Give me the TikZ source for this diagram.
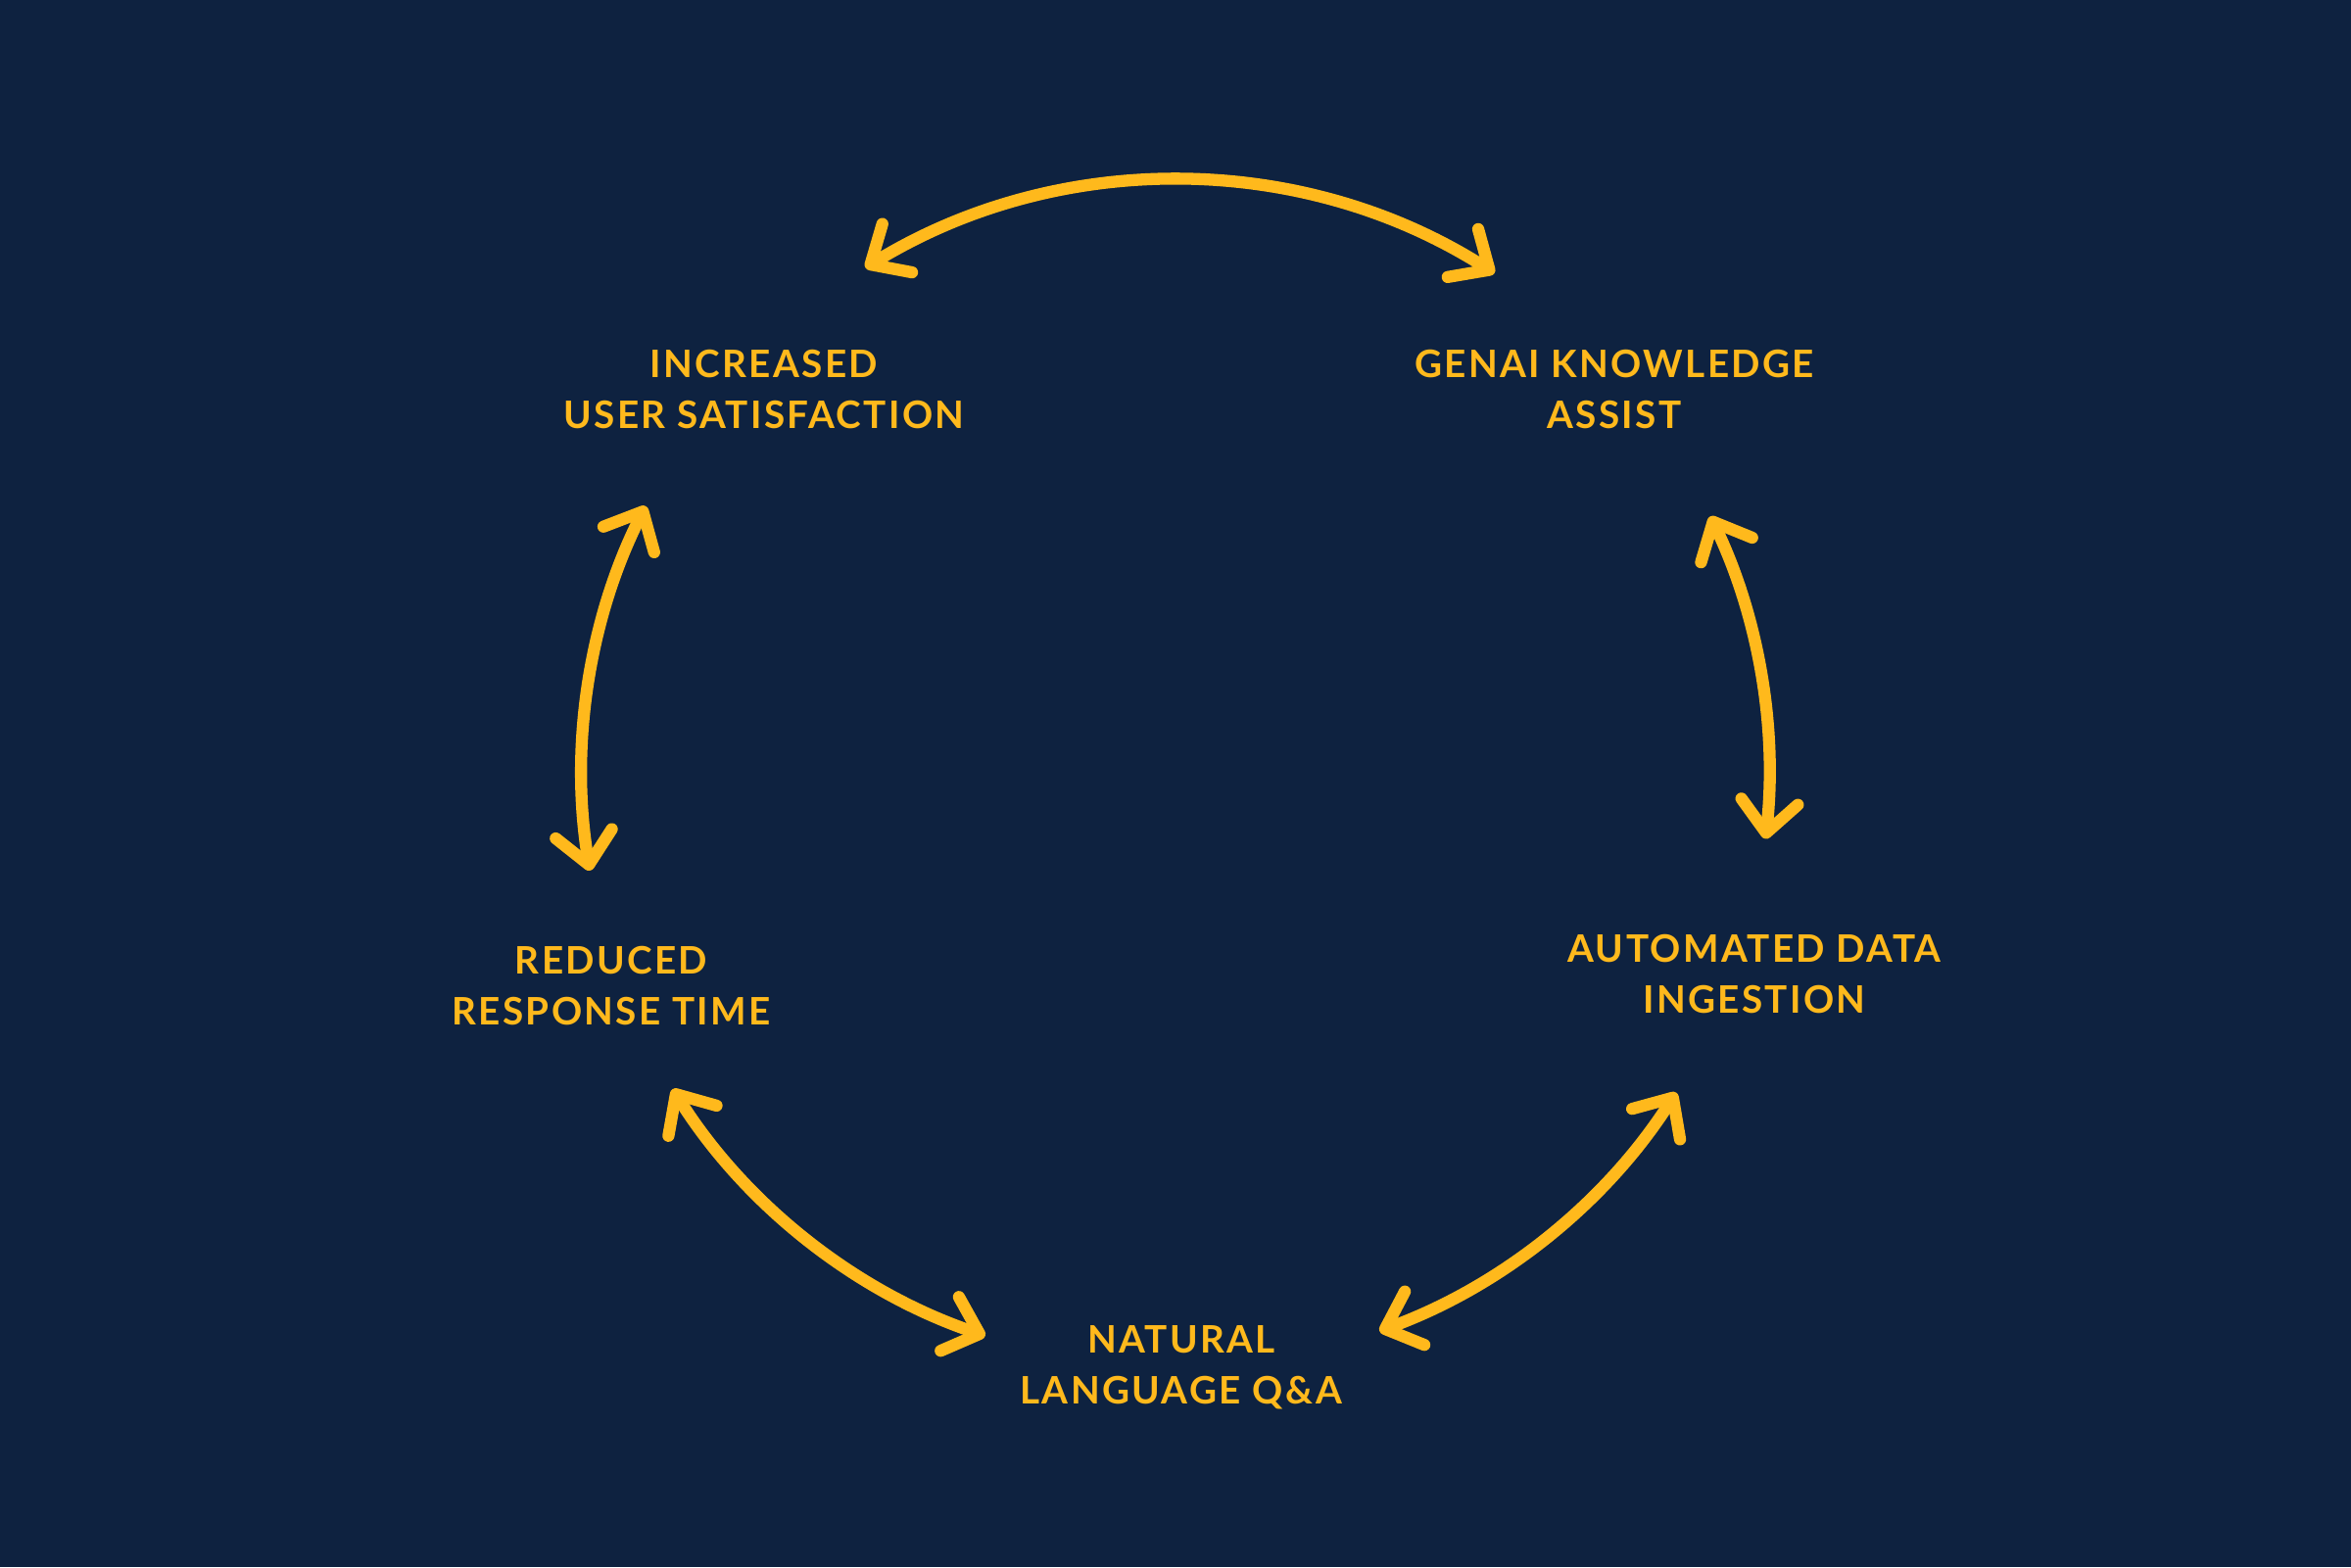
\documentclass[tikz,border=0pt]{standalone}
\usepackage{fontspec}
\setmainfont{Lato}
\usetikzlibrary{arrows.meta}
\definecolor{navy}{RGB}{14,34,64}
\definecolor{gold}{RGB}{255,185,28}
\newcommand{\cyclab}[1]{\addfontfeatures{LetterSpace=6}\bfseries #1}

\begin{document}
\begin{tikzpicture}[
		lab/.style={text=gold, align=center, font=\fontsize{11}{14.8}\selectfont\cyclab},
		link/.style={draw=gold, line width=3.5pt, line cap=round,
			{Straight Barb[length=3.2mm, width=5.8mm, line cap=round, line join=round]}-{Straight Barb[length=3.2mm, width=5.8mm, line cap=round, line join=round]}}]
	\fill[navy] (0,0) rectangle (24,16);
	\coordinate (c) at (12,8.1);
	\node[lab] (sat) at (7.80,12.02) {INCREASED\\USER SATISFACTION};
	\node[lab] (genai) at (16.48,12.02) {GENAI KNOWLEDGE\\ASSIST};
	\node[lab] (ingest) at (17.91,6.05) {AUTOMATED DATA\\INGESTION};
	\node[lab] (qa) at (12.06,2.04) {NATURAL\\LANGUAGE Q\&A};
	\node[lab] (resp) at (6.24,5.93) {REDUCED\\RESPONSE TIME};
	\draw[link] ([shift={(121.5:6.06)}]c) arc[start angle=121.5, end angle=57.5, radius=6.06];
	\draw[link] ([shift={(25.7:6.06)}]c) arc[start angle=25.7, end angle=-6.3, radius=6.06];
	\draw[link] ([shift={(-32.5:6.06)}]c) arc[start angle=-32.5, end angle=-69.9, radius=6.06];
	\draw[link] ([shift={(-108.7:6.06)}]c) arc[start angle=-108.7, end angle=-147.9, radius=6.06];
	\draw[link] ([shift={(189.4:6.06)}]c) arc[start angle=189.4, end angle=153.2, radius=6.06];
\end{tikzpicture}
\end{document}
